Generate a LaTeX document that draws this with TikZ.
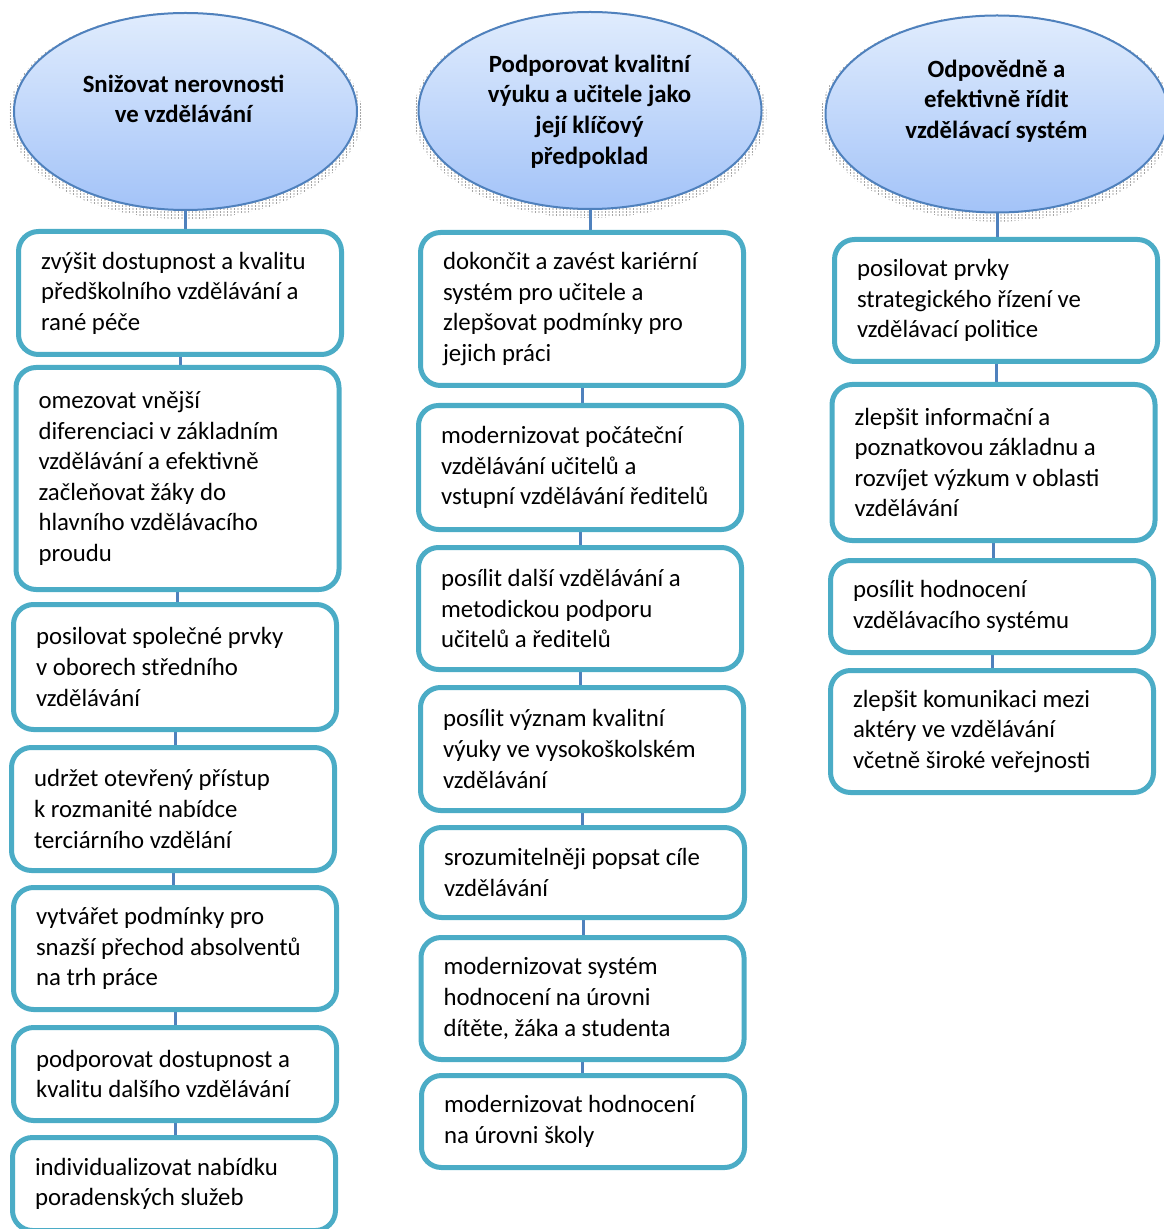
\documentclass[tikz,border=0pt]{standalone}
\usepackage{fontspec}
\setmainfont{Carlito}
\usepackage{tikz}
\usetikzlibrary{shapes.geometric,patterns.meta,backgrounds}

\definecolor{boxline}{RGB}{75,172,198}
\definecolor{linkline}{RGB}{79,129,189}
\definecolor{goaltop}{RGB}{224,236,253}
\definecolor{goalbot}{RGB}{163,195,248}

\newcommand{\itemfont}{\fontsize{12.4pt}{15.3pt}\selectfont}

\tikzdeclarepattern{
  name=speckle,
  type=uncolored,
  bottom left={(-0.5pt,-0.5pt)},
  top right={(1.5pt,1.5pt)},
  tile size={(1.75pt,1.5pt)},
  code={\fill (0pt,0pt) circle (0.3pt);}
}

\begin{document}
\begin{tikzpicture}[
    x=0.5pt, y=-0.5pt,
    goal/.style={ellipse, draw=linkline, line width=1pt, top color=goaltop,
        bottom color=goalbot, minimum width=171.5pt, minimum height=98.5pt, inner sep=0pt},
    goaltext/.style={font=\itemfont\bfseries, align=center, inner sep=0pt},
    item/.style={draw=boxline, line width=2.5pt, rounded corners=10pt, fill=white,
        text width=139pt, align=flush left, inner xsep=11.25pt, inner ysep=0pt, font=\itemfont},
    link/.style={draw=linkline, line width=1.5pt},
    shade/.style={pattern=speckle, pattern color=black!70}
]
\useasboundingbox (0,0) rectangle (1163,1229);

% Goals
\node[goal] (g1) at (185.5,111.5) {};
\node[goal] (g2) at (590,110.5) {};
\node[goal] (g3) at (997,114) {};
\node[goaltext] (g1t) at (183.5,99) {Snižovat nerovnosti\\ve vzdělávání};
\node[goaltext] (g2t) at (589.5,111.5) {Podporovat kvalitní\\výuku a učitele jako\\její klíčový\\předpoklad};
\node[goaltext] (g3t) at (996.5,101) {Odpovědně a\\efektivně řídit\\vzdělávací systém};

% Column 1
\node[item, minimum height=61.5pt] (a1) at (180,293) {zvýšit dostupnost a kvalitu\\předškolního vzdělávání a\\rané péče};
\node[item, minimum height=111pt] (a2) at (177.5,478.5) {omezovat vnější\\diferenciaci v základním\\vzdělávání a efektivně\\začleňovat žáky do\\hlavního vzdělávacího\\proudu};
\node[item, minimum height=62.5pt] (a3) at (175,667) {posilovat společné prvky\\v oborech středního\\vzdělávání};
\node[item, minimum height=61.5pt] (a4) at (173,809) {udržet otevřený přístup\\k rozmanité nabídce\\terciárního vzdělání};
\node[item, minimum height=61pt] (a5) at (175,948.5) {vytvářet podmínky pro\\snazší přechod absolventů\\na trh práce};
\node[item, minimum height=46.5pt] (a6) at (175,1074) {podporovat dostupnost a\\kvalitu dalšího vzdělávání};
\node[item, minimum height=46.5pt] (a7) at (174,1184) {individualizovat nabídku\\poradenských služeb};

% Column 2
\node[item, minimum height=76.5pt] (b1) at (582,309) {dokončit a zavést kariérní\\systém pro učitele a\\zlepšovat podmínky pro\\jejich práci};
\node[item, minimum height=62pt] (b2) at (580,467.5) {modernizovat počáteční\\vzdělávání učitelů a\\vstupní vzdělávání ředitelů};
\node[item, minimum height=61pt] (b3) at (580,608.5) {posílit další vzdělávání a\\metodickou podporu\\učitelů a ředitelů};
\node[item, minimum height=61.5pt] (b4) at (582,749) {posílit význam kvalitní\\výuky ve vysokoškolském\\vzdělávání};
\node[item, minimum height=45pt] (b5) at (583,872.5) {srozumitelněji popsat cíle\\vzdělávání};
\node[item, minimum height=61pt] (b6) at (582.5,998.5) {modernizovat systém\\hodnocení na úrovni\\dítěte, žáka a studenta};
\node[item, minimum height=46pt] (b7) at (583,1121.5) {modernizovat hodnocení\\na úrovni školy};

% Column 3
\node[item, minimum height=61pt] (c1) at (996,300.5) {posilovat prvky\\strategického řízení ve\\vzdělávací politice};
\node[item, minimum height=78pt] (c2) at (993.5,462.5) {zlepšit informační a\\poznatkovou základnu a\\rozvíjet výzkum v oblasti\\vzdělávání};
\node[item, minimum height=46pt] (c3) at (992,606.5) {posílit hodnocení\\vzdělávacího systému};
\node[item, minimum height=61pt] (c4) at (992,731.5) {zlepšit komunikaci mezi\\aktéry ve vzdělávání\\včetně široké veřejnosti};

\begin{scope}[on background layer]
% Shadows
\fill[shade] ([yshift=-2pt]g1.center) ellipse (88.25pt and 51.75pt);
\fill[shade] ([yshift=-2pt]g2.center) ellipse (88.25pt and 51.75pt);
\fill[shade] ([yshift=-2pt]g3.center) ellipse (88.25pt and 51.75pt);

% Links
\draw[link] (g1.south) -- (g1.south |- a1.north);
\draw[link] (a1.south) -- (a1.south |- a2.north);
\draw[link] (a2.south) -- (a2.south |- a3.north);
\draw[link] (a3.south) -- (a3.south |- a4.north);
\draw[link] (a4.south) -- (a4.south |- a5.north);
\draw[link] (a5.south) -- (a5.south |- a6.north);
\draw[link] (a6.south) -- (a6.south |- a7.north);
\draw[link] (g2.south) -- (g2.south |- b1.north);
\draw[link] (b1.south) -- (b1.south |- b2.north);
\draw[link] (b2.south) -- (b2.south |- b3.north);
\draw[link] (b3.south) -- (b3.south |- b4.north);
\draw[link] (b4.south) -- (b4.south |- b5.north);
\draw[link] (b5.south) -- (b5.south |- b6.north);
\draw[link] (b6.south) -- (b6.south |- b7.north);
\draw[link] (g3.south) -- (g3.south |- c1.north);
\draw[link] (c1.south) -- (c1.south |- c2.north);
\draw[link] (c2.south) -- (c2.south |- c3.north);
\draw[link] (c3.south) -- (c3.south |- c4.north);
\end{scope}
\end{tikzpicture}
\end{document}
